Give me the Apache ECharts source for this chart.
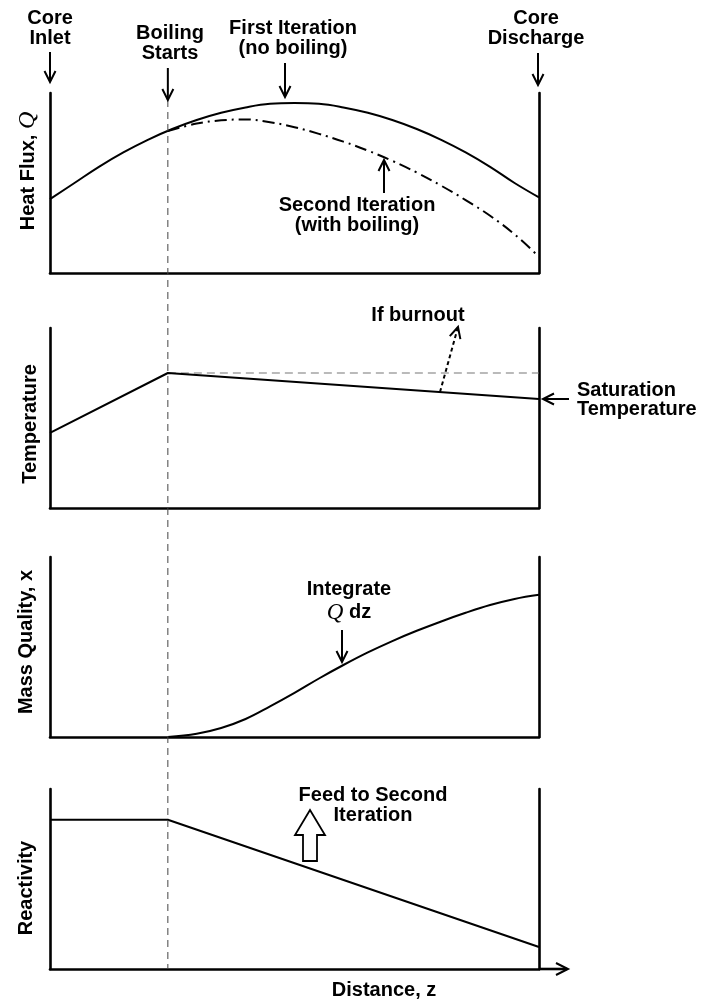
<!DOCTYPE html>
<html><head><meta charset="utf-8">
<script src="https://cdn.jsdelivr.net/npm/echarts@6/dist/echarts.min.js"></script>
<style>html,body{margin:0;padding:0;background:#fff}#c{width:706px;height:1005px}</style>
</head><body><div id="c"></div>
<script>
// ---------------- data (z in % of core length, values in relative units) -------------
const boilingZ = 24.1;

const fluxZ        = [0, 5, 10, 15, 20, 25, 30, 35, 40, 45, 50, 55, 60, 65, 70, 75, 80, 85, 90, 95, 100];
const fluxFirst    = [41, 50, 59, 67, 74, 80, 85, 89, 92, 94, 94.4, 94, 92, 89, 85, 80, 74, 67, 59, 50, 42];
const fluxSecondZ  = [24.1, 30, 35, 40, 45, 50, 55, 60, 65, 70, 75, 80, 85, 90, 95, 100];
const fluxSecond   = [78.9, 83, 84.8, 85.3, 83.8, 81, 77.3, 73, 68, 62.3, 55.8, 48.5, 40.5, 31.8, 21.5, 9];

const tempZ        = [0, 24.1, 100];
const tempValues   = [41.7, 75, 60.6];
const boilTempZ    = [24.1, 100];
const boilTemp     = [75, 75];

const qualityZ     = [24.1, 30, 35, 40, 45, 50, 55, 60, 65, 70, 75, 80, 85, 90, 95, 100];
const qualityVals  = [0, 1.8, 5, 10, 17, 24.5, 32.5, 40, 47, 53.3, 59, 64.2, 69, 73.3, 76.7, 79];

const reactZ       = [0, 24.1, 100];
const reactVals    = [82.9, 82.9, 12.2];

const yNames = ['Heat Flux, {q|Q}', 'Temperature', 'Mass Quality, x', 'Reactivity'];

// ---------------- layout ----------------
const FONT = '"Liberation Sans", Arial, Helvetica, sans-serif';
const SERIF = '"Liberation Serif", "DejaVu Serif", serif';
const panels = [{top: 93}, {top: 328}, {top: 557}, {top: 789}];
const AX = {color: '#000', width: 2.6};
const nameShift = [[0, 0, 0, 24], [0, 12, 0, 0], [0, 0, 0, 10], [0, 18, 0, 0]];
const nameGaps = [10, 10, 14, 14];

const zip = (a, b) => a.map((v, i) => [v, b[i]]);

const grid = panels.map(p => ({left: 50, width: 489, top: p.top, height: 180, outerBoundsMode: 'none', containLabel: false}));
const xAxis = panels.map((p, i) => {
  const ax = {type: 'value', gridIndex: i, min: 0, max: 100,
    axisLine: {show: true, onZero: false, lineStyle: AX},
    axisTick: {show: false}, axisLabel: {show: false}, splitLine: {show: false}};
  if (i === 3) {
    ax.name = 'Distance, z';
    ax.nameLocation = 'middle';
    ax.nameGap = 11;
    ax.nameTextStyle = {fontFamily: FONT, fontWeight: 'bold', fontSize: 20, color: '#000', padding: [0, 0, 0, 179]};
  }
  return ax;
});
const yAxis = [];
panels.forEach((p, i) => {
  yAxis.push({type: 'value', gridIndex: i, min: 0, max: 100, position: 'left',
    axisLine: {show: true, onZero: false, lineStyle: AX},
    axisTick: {show: false}, axisLabel: {show: false}, splitLine: {show: false},
    name: yNames[i], nameLocation: 'middle', nameRotate: 90, nameGap: nameGaps[i],
    nameTextStyle: {fontFamily: FONT, fontWeight: 'bold', fontSize: 20, color: '#000', padding: nameShift[i],
      rich: {q: {fontFamily: SERIF, fontStyle: 'italic', fontWeight: 'normal', fontSize: 24, color: '#000'}}}
  });
  yAxis.push({type: 'value', gridIndex: i, min: 0, max: 100, position: 'right',
    axisLine: {show: true, onZero: false, lineStyle: AX},
    axisTick: {show: false}, axisLabel: {show: false}, splitLine: {show: false}});
});

const line = (xi, data, style, smooth) => ({type: 'line', xAxisIndex: xi, yAxisIndex: xi * 2, data,
  showSymbol: false, symbol: 'none', smooth: smooth || false,
  lineStyle: Object.assign({color: '#000', width: 2}, style), silent: true});

const series = [
  line(0, zip(fluxZ, fluxFirst), {}, 0.4),
  line(0, zip(fluxSecondZ, fluxSecond), {type: [12, 5, 2, 5]}, 0.4),
  line(1, zip(boilTempZ, boilTemp), {color: '#777', width: 1.2, type: [8, 5]}),
  line(1, zip(tempZ, tempValues), {}),
  line(2, zip(qualityZ, qualityVals), {}, 0.4),
  line(3, zip(reactZ, reactVals), {})
];

const chart = echarts.init(document.getElementById('c'), null, {renderer: 'canvas'});
chart.setOption({animation: false, backgroundColor: '#fff', grid, xAxis, yAxis, series});

// ---------------- annotations ----------------
function arrowEls(x1, y1, x2, y2, o) {
  o = o || {};
  const L = o.head || 11, W = o.w || 5.5;
  const dx = x2 - x1, dy = y2 - y1, len = Math.hypot(dx, dy);
  const ux = dx / len, uy = dy / len, nx = -uy, ny = ux;
  const bx = x2 - ux * L, by = y2 - uy * L;
  const shaft = {stroke: '#000', lineWidth: o.lw || 2};
  if (o.dash) shaft.lineDash = o.dash;
  return [
    {type: 'line', shape: {x1, y1, x2, y2}, style: shaft, z: 10},
    {type: 'polyline', shape: {points: [[bx + nx * W, by + ny * W], [x2, y2], [bx - nx * W, by - ny * W]]},
      style: {stroke: '#000', lineWidth: 2, fill: null}, z: 10}
  ];
}
function txt(text, x, y, o) {
  return {type: 'text', x, y, z: 10, style: Object.assign({text, fill: '#000',
    fontFamily: FONT, fontWeight: 'bold', fontSize: 20,
    align: 'center', verticalAlign: 'middle', lineHeight: 20}, o || {})};
}
const qRich = {q: {fontFamily: SERIF, fontStyle: 'italic', fontWeight: 'normal', fontSize: 23, fill: '#000'}};

const bx = chart.convertToPixel({gridIndex: 0}, [boilingZ, 0])[0];
const base4 = chart.convertToPixel({gridIndex: 3}, [100, 0]);

const g = [];
g.push({type: 'line', shape: {x1: bx, y1: 100, x2: bx, y2: base4[1]}, style: {stroke: '#444', lineWidth: 1, lineDash: [7, 5]}, z: 5});
// top labels
g.push(txt('Core\nInlet', 50, 28));
g.push(...arrowEls(50, 52, 50, 82));
g.push(txt('Boiling\nStarts', 170, 43));
g.push(...arrowEls(bx, 68, bx, 100));
g.push(txt('First Iteration\n(no boiling)', 293, 38));
g.push(...arrowEls(285, 63, 285, 97));
g.push(txt('Core\nDischarge', 536, 28));
g.push(...arrowEls(538, 53, 538, 85));
g.push(txt('Second Iteration\n(with boiling)', 357, 215));
g.push(...arrowEls(384, 193, 384, 160));
// temperature panel
g.push(txt('If burnout', 418, 315));
g.push(...arrowEls(440, 392, 458, 327, {dash: [4, 3]}));
g.push(txt('Saturation\nTemperature', 577, 400, {align: 'left', lineHeight: 19}));
g.push(...arrowEls(569, 399, 543, 399));
// quality panel
g.push(txt('Integrate\n{q|Q} dz', 349, 601, {lineHeight: 23, rich: qRich}));
g.push(...arrowEls(342, 630, 342, 662));
// reactivity panel
g.push(txt('Feed to Second\nIteration', 373, 805));
g.push({type: 'polygon', z: 10, shape: {points: [[310, 810], [325, 835], [317, 835], [317, 861], [303, 861], [303, 835], [295, 835]]},
  style: {stroke: '#000', lineWidth: 1.8, fill: '#fff'}});
// x-axis arrow extension
g.push({type: 'line', z: 10, shape: {x1: base4[0], y1: base4[1], x2: 567, y2: base4[1]}, style: {stroke: '#000', lineWidth: 2.6}});
g.push({type: 'polyline', z: 10, shape: {points: [[556, base4[1] - 6], [568, base4[1]], [556, base4[1] + 6]]}, style: {stroke: '#000', lineWidth: 2, fill: null}});

chart.setOption({graphic: g});
</script>
</body></html>
